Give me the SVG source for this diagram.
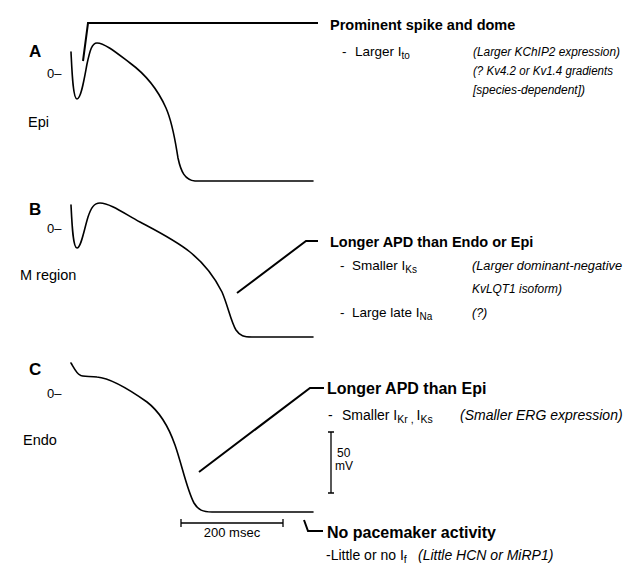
<svg xmlns="http://www.w3.org/2000/svg" width="633" height="566" viewBox="0 0 633 566">
<style>
text{font-family:"Liberation Sans",Arial,sans-serif;fill:#000}
.lbl{font-weight:bold;font-size:17px}
.zero{font-size:13px}
.name{font-size:14.5px}
.hd{font-weight:bold;font-size:14.5px}
.hd2{font-weight:bold;font-size:16px}
.it{font-style:italic;font-size:12.5px}
.it2{font-style:italic;font-size:14px}
.rg{font-size:13.5px}
.rg2{font-size:14px}
.sub{font-size:10px}
.sub2{font-size:10.5px}
.trace{fill:none;stroke:#000;stroke-width:1.6;stroke-linejoin:round;stroke-linecap:round}
.brk{fill:none;stroke:#000;stroke-width:2;stroke-linejoin:miter}
.bar{fill:none;stroke:#000;stroke-width:1.3}
</style>
<rect width="633" height="566" fill="#fff"/>
<g id="panelA">
<text class="lbl" x="29" y="57">A</text>
<text class="zero" x="47" y="78">0–</text>
<text class="name" x="28" y="127">Epi</text>
<path class="trace" d="M71,52 C72,72 73,99 77,99 C81,99 84,80 87,64 C90,50 92,43 97,43 C105,43 118,54 130,63 C145,74 158,90 166,108 C173,124 175,140 178,158 C181,172 185,180 195,181 L313,181"/>
</g>
<g id="panelB">
<text class="lbl" x="29" y="215">B</text>
<text class="zero" x="47" y="233">0–</text>
<text class="name" x="20" y="280">M region</text>
<path class="trace" d="M71,205 C72,225 73,248 77,248 C81,248 84,230 88,217 C91,208 94,203 100,203 C110,203 125,214 140,222 C155,230 175,240 190,252 C205,264 215,278 222,292 C228,306 231,322 236,330 C240,336 244,337 252,337 L313,337"/>
</g>
<g id="panelC">
<text class="lbl" x="29" y="375">C</text>
<text class="zero" x="47" y="398">0–</text>
<text class="name" x="23" y="445">Endo</text>
<path class="trace" d="M71,363 C74,368 77,374 80,375 C82,377 90,376 97,377 C110,378 130,390 147,402 C160,412 168,425 175,445 C182,465 187,490 194,503 C198,510 203,512 212,512 L313,512"/>
</g>
<g id="scalebars">
<path class="bar" d="M331,432 V493 M328,432 H334 M328,493 H334"/>
<text x="337" y="457" style="font-size:12px">50</text>
<text x="335" y="470" style="font-size:12px">mV</text>
<path class="bar" d="M181,523 H283 M181,519 V527 M283,519 V527"/>
<text x="232" y="537" text-anchor="middle" style="font-size:13px">200 msec</text>
</g>
<g id="connectors">
<path class="brk" d="M83,61 L88,23 L318,23"/>
<path class="brk" d="M237,293 L306,241 L318,241"/>
<path class="brk" d="M199,472 L310,388 L324,388"/>
<path class="brk" d="M304,520 L308,531 L323,531"/>
</g>
<g id="noteA">
<text class="hd" x="330" y="30">Prominent spike and dome</text>
<text class="rg" x="342" y="56">-</text>
<text class="rg" x="355" y="56">Larger I<tspan class="sub" dy="3">to</tspan></text>
<text class="it" x="473" y="56" textLength="147" lengthAdjust="spacingAndGlyphs">(Larger KChIP2 expression)</text>
<text class="it" x="473" y="75" textLength="140" lengthAdjust="spacingAndGlyphs">(? Kv4.2 or Kv1.4 gradients</text>
<text class="it" x="473" y="94" textLength="112" lengthAdjust="spacingAndGlyphs">[species-dependent])</text>
</g>
<g id="noteB">
<text class="hd" x="330" y="247">Longer APD than Endo or Epi</text>
<text class="rg" x="340" y="270">-</text>
<text class="rg" x="352" y="270">Smaller I<tspan class="sub" dy="3">Ks</tspan></text>
<text class="it" x="472" y="270" textLength="150" lengthAdjust="spacingAndGlyphs">(Larger dominant-negative</text>
<text class="it" x="472" y="293" textLength="90" lengthAdjust="spacingAndGlyphs">KvLQT1 isoform)</text>
<text class="rg" x="340" y="317">-</text>
<text class="rg" x="352" y="317">Large late I<tspan class="sub" dy="3">Na</tspan></text>
<text class="it" x="472" y="317">(?)</text>
</g>
<g id="noteC">
<text class="hd2" x="327" y="394">Longer APD than Epi</text>
<text class="rg2" x="328" y="420">-</text>
<text class="rg2" x="342" y="420">Smaller I<tspan class="sub2" dy="3">Kr , </tspan><tspan dy="-3">I</tspan><tspan class="sub2" dy="3">Ks</tspan></text>
<text class="it2" x="460" y="420">(Smaller ERG expression)</text>
<text class="hd2" x="327" y="538">No pacemaker activity</text>
<text class="rg2" x="326" y="560">-Little or no I<tspan class="sub2" dy="2.5">f</tspan></text>
<text class="it2" x="418" y="560">(Little HCN or MiRP1)</text>
</g>
</svg>
